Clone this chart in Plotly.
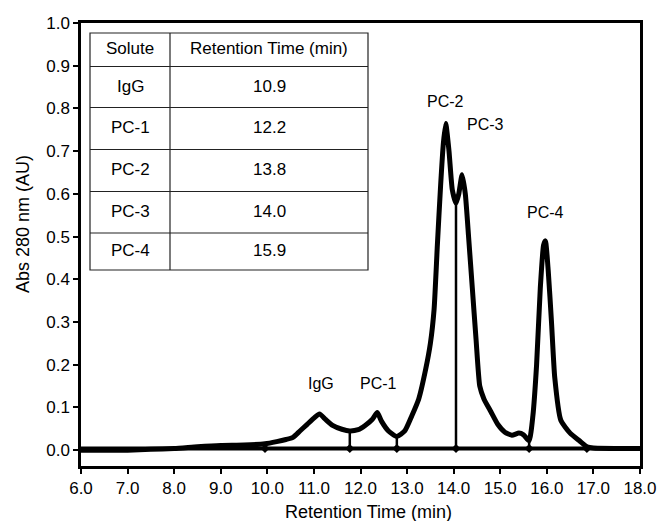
import plotly.graph_objects as go

# Chromatogram trace (retention time in min, absorbance in AU)
time_min = [6.0, 6.5, 7.0, 7.5, 8.0, 8.5, 9.0, 9.5, 9.95, 10.2, 10.4, 10.55, 10.7, 10.85,
            11.0, 11.12, 11.25, 11.4, 11.6, 11.77, 11.95, 12.1, 12.25, 12.36, 12.45, 12.6,
            12.78, 12.95, 13.1, 13.25, 13.4, 13.5, 13.58, 13.65, 13.72, 13.78, 13.83, 13.9,
            13.97, 14.05, 14.11, 14.18, 14.25, 14.32, 14.4, 14.48, 14.56, 14.65, 14.8, 14.95,
            15.1, 15.25, 15.4, 15.5, 15.62, 15.7, 15.78, 15.86, 15.93, 15.97, 16.03, 16.1,
            16.17, 16.3, 16.5, 16.7, 16.86, 17.0, 17.5, 18.0]
absorbance = [0.0, 0.0, 0.0, 0.002, 0.004, 0.008, 0.011, 0.012, 0.015, 0.02, 0.025, 0.03,
              0.045, 0.06, 0.075, 0.085, 0.072, 0.058, 0.049, 0.045, 0.048, 0.058, 0.072,
              0.088, 0.068, 0.045, 0.032, 0.045, 0.08, 0.12, 0.19, 0.25, 0.33, 0.48, 0.62,
              0.72, 0.765, 0.70, 0.61, 0.578, 0.60, 0.645, 0.60, 0.50, 0.38, 0.26, 0.15, 0.12,
              0.09, 0.06, 0.042, 0.035, 0.04, 0.036, 0.022, 0.08, 0.20, 0.38, 0.48, 0.49,
              0.42, 0.30, 0.17, 0.07, 0.04, 0.022, 0.008, 0.005, 0.004, 0.004]

# Integration baseline, drop lines and baseline markers
baseline_x = [6.0, 18.0]
baseline_level = 0.004
drop_x = [11.77, 12.78, 14.05, 15.62]
drop_top = [0.045, 0.032, 0.578, 0.022]
marker_x = [9.95, 11.77, 12.78, 14.05, 15.62, 16.86]

# Peak labels
peak_names = ["IgG", "PC-1", "PC-2", "PC-3", "PC-4"]
peak_label_x = [11.15, 12.38, 13.83, 14.69, 15.98]
peak_label_y = [0.155, 0.155, 0.817, 0.763, 0.557]

# Inset table
table_header = ["Solute", "Retention Time (min)"]
solutes = ["IgG", "PC-1", "PC-2", "PC-3", "PC-4"]
retention = ["10.9", "12.2", "13.8", "14.0", "15.9"]

FONT = "Liberation Sans, Arial, sans-serif"

# ---- geometry (pixels in the 657x521 canvas) ----
W, H = 657, 521
L, R, T, B = 81, 17, 23, 55
PW, PH = W - L - R, H - T - B


def px_to_paper_x(px):
    return (px - L) / PW


def px_to_paper_y(py):
    return (H - B - py) / PH


fig = go.Figure()

fig.add_trace(go.Scatter(x=baseline_x, y=[baseline_level] * 2, mode="lines",
                         line=dict(color="black", width=4), showlegend=False, hoverinfo="skip"))
for dx, dt in zip(drop_x, drop_top):
    fig.add_trace(go.Scatter(x=[dx, dx], y=[baseline_level, dt], mode="lines",
                             line=dict(color="black", width=2.5), showlegend=False,
                             hoverinfo="skip"))
fig.add_trace(go.Scatter(x=marker_x, y=[baseline_level] * len(marker_x), mode="markers",
                         marker=dict(color="black", size=7, symbol="diamond"),
                         showlegend=False, hoverinfo="skip"))
fig.add_trace(go.Scatter(x=time_min, y=absorbance, mode="lines",
                         line=dict(color="black", width=5, shape="spline", smoothing=0.5),
                         showlegend=False))

for name, lx, ly in zip(peak_names, peak_label_x, peak_label_y):
    fig.add_annotation(x=lx, y=ly, text=name, showarrow=False,
                       font=dict(family=FONT, size=16, color="black"))

# ---- inset table drawn with shapes + text ----
tbl_left, tbl_mid, tbl_right = 90, 170, 368
row_edges = [33, 66.5, 107.5, 149.5, 191.5, 233, 270]
shapes = []
shapes.append(dict(type="rect", xref="paper", yref="paper",
                   x0=px_to_paper_x(tbl_left), x1=px_to_paper_x(tbl_right),
                   y0=px_to_paper_y(row_edges[-1]), y1=px_to_paper_y(row_edges[0]),
                   line=dict(color="#222222", width=1.2), fillcolor="white", layer="above"))
shapes.append(dict(type="line", xref="paper", yref="paper",
                   x0=px_to_paper_x(tbl_mid), x1=px_to_paper_x(tbl_mid),
                   y0=px_to_paper_y(row_edges[-1]), y1=px_to_paper_y(row_edges[0]),
                   line=dict(color="#222222", width=1.2), layer="above"))
for edge in row_edges[1:-1]:
    shapes.append(dict(type="line", xref="paper", yref="paper",
                       x0=px_to_paper_x(tbl_left), x1=px_to_paper_x(tbl_right),
                       y0=px_to_paper_y(edge), y1=px_to_paper_y(edge),
                       line=dict(color="#222222", width=1.2), layer="above"))

rows = [table_header] + [[s, r] for s, r in zip(solutes, retention)]
col_centers = [(tbl_left + tbl_mid) / 2, (tbl_mid + tbl_right) / 2]
for i, row in enumerate(rows):
    yc = (row_edges[i] + row_edges[i + 1]) / 2 - 1
    for j, txt in enumerate(row):
        fig.add_annotation(xref="paper", yref="paper",
                           x=px_to_paper_x(col_centers[j]), y=px_to_paper_y(yc),
                           text=txt, showarrow=False, xanchor="center", yanchor="middle",
                           font=dict(family=FONT, size=17, color="black"))

# axis titles as annotations for exact placement
fig.add_annotation(xref="paper", yref="paper", x=px_to_paper_x(368), y=px_to_paper_y(512),
                   text="Retention Time (min)", showarrow=False,
                   xanchor="center", yanchor="middle",
                   font=dict(family=FONT, size=18, color="black"))
fig.add_annotation(xref="paper", yref="paper", x=px_to_paper_x(23), y=px_to_paper_y(224),
                   text="Abs 280 nm (AU)", showarrow=False, textangle=-90,
                   xanchor="center", yanchor="middle",
                   font=dict(family=FONT, size=18, color="black"))

axis_common = dict(showline=True, linecolor="black", linewidth=2.5, mirror=True,
                   ticks="outside", ticklen=5, tickwidth=1.5, tickcolor="black",
                   showgrid=False, zeroline=False, automargin=False,
                   tickfont=dict(family=FONT, size=17, color="black"))

fig.update_xaxes(range=[6, 18], tickmode="array",
                 tickvals=[6, 7, 8, 9, 10, 11, 12, 13, 14, 15, 16, 17, 18],
                 tickformat=".1f", **axis_common)
fig.update_yaxes(range=[-0.037, 1.0], tickmode="array",
                 tickvals=[0, 0.1, 0.2, 0.3, 0.4, 0.5, 0.6, 0.7, 0.8, 0.9, 1.0],
                 tickformat=".1f", **axis_common)

fig.update_layout(width=W, height=H,
                  margin=dict(l=L, r=R, t=T, b=B),
                  plot_bgcolor="white", paper_bgcolor="white",
                  shapes=shapes,
                  font=dict(family=FONT, color="black"))

fig.write_html("out.html")
